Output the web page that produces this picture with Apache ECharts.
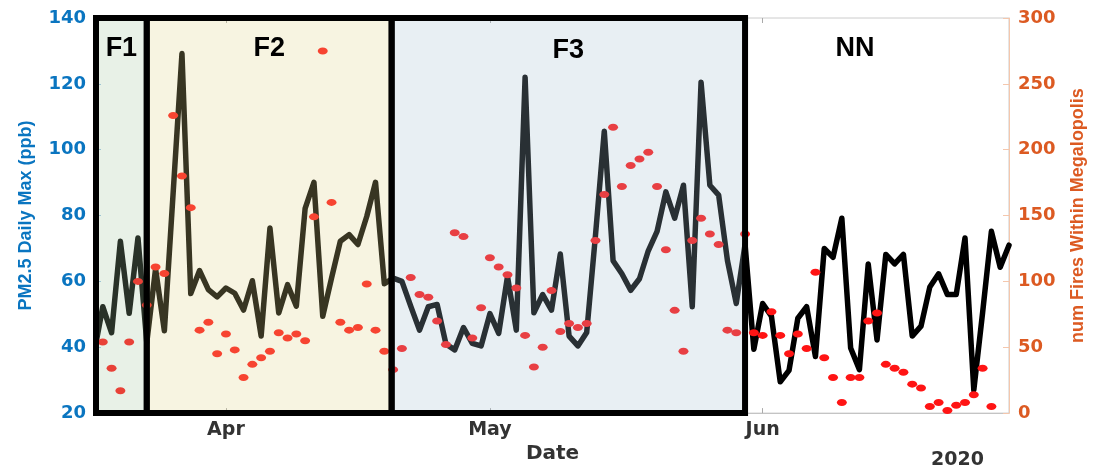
<!DOCTYPE html>
<html>
<head>
<meta charset="utf-8">
<script src="https://cdn.jsdelivr.net/npm/echarts@6/dist/echarts.min.js"></script>
<style>
  html, body { margin: 0; padding: 0; background: #fff; }
  #chart { width: 1097px; height: 469px; }
</style>
</head>
<body>
<div id="chart"></div>
<script>
// first day of the daily series (2020-03-17), one value per day after that
const startYear = 2020, startMonth = 2, startDay = 17

// PM2.5 daily max (ppb)
const pm25 = [
  38, 52.3, 44.4, 72.2, 50.3, 73.2, 41.4, 63.8, 45, 87,
  129.2, 56.3, 63.3, 57.5, 55.3, 58, 56.4, 51.3, 60.2, 43.4,
  76.2, 50.4, 59, 52.5, 82.2, 90.1, 49.4, 61, 72.2, 74.2,
  71.2, 79.7, 90.1, 59.3, 61, 60, 52.5, 45.2, 52.3, 53,
  41, 39.2, 46, 41.2, 40.4, 50.2, 44.2, 61.5, 45.2, 122,
  50.5, 56, 51.3, 68.3, 43.4, 40.4, 44.5, 74, 105.6, 66.3,
  62.3, 57.3, 60.8, 69.3, 75.2, 87.2, 79.2, 89.2, 52.3, 120.5,
  89.2, 86.2, 66.3, 53.3, 71.2, 39.4, 53.3, 49.4, 29.5, 33,
  48.8, 52.3, 37.2, 70, 67.3, 79.2, 39.8, 33.2, 65.3, 42.2,
  68.2, 65.3, 68.2, 43.4, 46.4, 58.3, 62.3, 56, 56, 73.2,
  27, 50.5, 75.2, 64.3, 71
]

// number of fires within the megalopolis (null = no point)
const fires = [
  null, 54, 34, 17, 54, 100, 82, 111, 106, 226,
  180, 156, 63, 69, 45, 60, 48, 27, 37, 42,
  47, 61, 57, 60, 55, 149, 275, 160, 69, 63,
  65, 98, 63, 47, 33, 49, 103, 90, 88, 70,
  52, 137, 134, 57, 80, 118, 111, 105, 95, 59,
  35, 50, 93, 62, 68, 65, 68, 131, 166, 217,
  172, 188, 193, 198, 172, 124, 78, 47, 131, 148,
  136, 128, 63, 61, 136, 61, 59, 77, 59, 45,
  60, 49, 107, 42, 27, 8, 27, 27, 70, 76,
  37, 34, 31, 22, 19, 5, 8, 2, 6, 8,
  14, 34, 5, null, null
]

// date axis
const axisStart = '2020-03-17 05:30'
const axisEnd = '2020-06-29'
const monthTicks = ['2020-04-01', '2020-05-01', '2020-06-01']
const monthNames = ['Apr', 'May', 'Jun']

// periods shown as boxes
const periodNames = ['F1', 'F2', 'F3', 'NN']
const periodStart = ['2020-03-17 05:30', '2020-03-23', '2020-04-19 20:00', '2020-05-30']
const periodEnd = ['2020-03-23', '2020-04-19 20:00', '2020-05-30', '2020-06-24']

const t = s => +echarts.time.parse(s)
const days = pm25.map((v, i) => +new Date(startYear, startMonth, startDay + i))
const monthValues = monthTicks.map(t)

// fill colours (semi transparent, drawn over the data like the original)
const periodFill = [
  'rgba(165,200,160,0.25)',
  'rgba(223,211,135,0.25)',
  'rgba(163,191,207,0.25)',
  'rgba(0,0,0,0)'
]
const labelOffset = [[0, 0], [0, 0], [0, 2], [0, -3]]

const blue = '#0a75c0'
const orange = '#dc5a22'
const font = 'DejaVu Sans'

const chart = echarts.init(document.getElementById('chart'))

const option = {
  animation: false,
  grid: {
    left: 96, right: 88, top: 18, bottom: 49,
    show: true, borderColor: '#cccccc', borderWidth: 1, backgroundColor: 'transparent'
  },
  xAxis: [
    {
      type: 'value',
      min: t(axisStart),
      max: t(axisEnd),
      name: 'Date',
      nameLocation: 'middle',
      nameGap: 29,
      nameTextStyle: { color: '#333', fontWeight: 'bold', fontSize: 20, fontFamily: font },
      axisLine: { show: true, lineStyle: { color: '#c4c4c4', width: 1 } },
      axisTick: {
        show: true, inside: true, length: 5,
        customValues: monthValues,
        lineStyle: { color: '#aaaaaa' }
      },
      axisLabel: {
        customValues: monthValues,
        formatter: v => monthNames[monthValues.indexOf(v)] || '',
        color: '#333', fontWeight: 'bold', fontSize: 19, fontFamily: font, margin: 7
      },
      splitLine: { show: false }
    },
    {
      type: 'value',
      position: 'top',
      min: t(axisStart),
      max: t(axisEnd),
      axisLine: { show: false },
      axisTick: {
        show: true, inside: true, length: 5,
        customValues: monthValues,
        lineStyle: { color: '#aaaaaa' }
      },
      axisLabel: { show: false },
      splitLine: { show: false }
    }
  ],
  yAxis: [
    {
      type: 'value',
      min: 20, max: 140, interval: 20,
      name: 'PM2.5 Daily Max (ppb)',
      nameLocation: 'middle',
      nameRotate: 90,
      nameGap: 61,
      nameTextStyle: { color: blue, fontWeight: 'bold', fontSize: 18, fontFamily: 'Liberation Sans' },
      axisLine: { show: false },
      axisTick: { show: true, inside: true, length: 5, lineStyle: { color: '#9cc6e6' } },
      axisLabel: { color: blue, fontWeight: 'bold', fontSize: 18, fontFamily: font, margin: 10 },
      splitLine: { show: false }
    },
    {
      type: 'value',
      min: 0, max: 300, interval: 50,
      position: 'right',
      name: 'num Fires Within Megalopolis',
      nameLocation: 'middle',
      nameRotate: 90,
      nameGap: 60,
      nameTextStyle: { color: orange, fontWeight: 'bold', fontSize: 18, fontFamily: 'Liberation Sans' },
      axisLine: { show: true, lineStyle: { color: '#f4c7ad', width: 1 } },
      axisTick: { show: true, inside: true, length: 6, lineStyle: { color: '#f4c7ad' } },
      axisLabel: { color: orange, fontWeight: 'bold', fontSize: 18, fontFamily: font, margin: 9 },
      splitLine: { show: false }
    }
  ],
  series: [
    {
      name: 'PM2.5',
      type: 'line',
      xAxisIndex: 0,
      yAxisIndex: 0,
      z: 2,
      symbol: 'none',
      data: days.map((d, i) => [d, pm25[i]]),
      lineStyle: { color: '#000', width: 5.5, join: 'round', cap: 'round' },
      markArea: {
        silent: true,
        z: 10,
        label: {
          show: true,
          position: 'insideTop',
          distance: 20,
          color: '#000',
          fontWeight: 'bold',
          fontSize: 27,
          fontFamily: 'Liberation Sans'
        },
        data: periodNames.map((n, i) => [
          {
            name: n,
            xAxis: t(periodStart[i]),
            itemStyle: {
              color: periodFill[i],
              borderColor: n === 'NN' ? 'transparent' : '#000',
              borderWidth: n === 'NN' ? 0 : 6
            },
            label: { offset: labelOffset[i] }
          },
          { xAxis: t(periodEnd[i]) }
        ])
      }
    },
    {
      name: 'Fires',
      type: 'scatter',
      xAxisIndex: 0,
      yAxisIndex: 1,
      z: 3,
      symbol: 'circle',
      symbolSize: [10, 7],
      itemStyle: { color: '#ff1414', opacity: 1 },
      data: days.map((d, i) => [d, fires[i]]).filter(p => p[1] !== null)
    }
  ],
  graphic: [
    {
      type: 'text',
      left: 931,
      top: 451,
      style: { text: '2020', fill: '#333', font: 'bold 19px "DejaVu Sans"' }
    }
  ]
}

chart.setOption(option)
</script>
</body>
</html>
